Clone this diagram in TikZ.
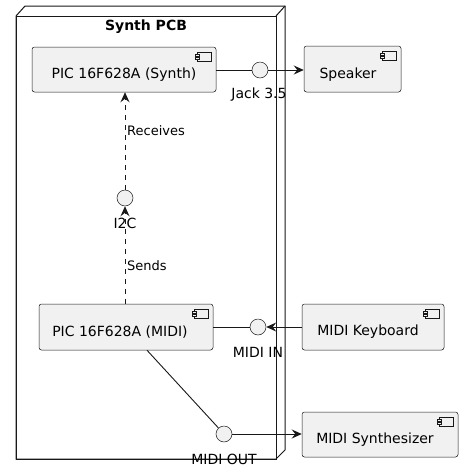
\documentclass[tikz,border=0pt]{standalone}
\usepackage{fontspec}
\setmainfont{DejaVu Sans}
\usetikzlibrary{arrows.meta}
\definecolor{boxfill}{HTML}{F1F1F1}
\definecolor{ln}{HTML}{181818}
\begin{document}
\begin{tikzpicture}[x=1pt,y=-1pt,
  comp/.style={draw=ln, line width=0.5pt, fill=boxfill, rounded corners=2.5pt, inner sep=0pt},
  txt/.style={inner sep=0pt, font=\fontsize{14}{16}\selectfont, text=black},
  lbl/.style={inner sep=0pt, font=\fontsize{13}{15}\selectfont, text=black, anchor=west},
  iface/.style={circle, draw=ln, line width=0.5pt, fill=boxfill, minimum size=16pt, inner sep=0pt},
  conn/.style={draw=ln, line width=0.9pt},
  arr/.style={conn, -{Stealth[length=10pt,width=9pt,inset=3.5pt]}},
  dashline/.style={dash pattern=on 5pt off 5pt}
]
\useasboundingbox[fill=white] (0,0) rectangle (463,475);
\tikzset{compicon/.pic={
  \draw[ln, line width=0.5pt, fill=boxfill] (-7,-4.5) rectangle (7,4.5);
  \draw[ln, line width=0.5pt, fill=boxfill] (-9,-2.5) rectangle (-5,-0.5);
  \draw[ln, line width=0.5pt, fill=boxfill] (-9,0.5) rectangle (-5,2.5);
}}
% node frame
\draw[ln, line width=1pt, fill=white] (16,16) -- (25,6) -- (285,6) -- (285,450) -- (276,459) -- (16,459) -- cycle;
\draw[ln, line width=1pt] (16,16) rectangle (276,459);
\draw[ln, line width=1pt] (276,16) -- (285,6);
\node[txt, font=\fontsize{14}{16}\selectfont\bfseries] (title) at (146,27) {Synth PCB};

% components
\node[comp, minimum width=184pt, minimum height=45pt] (synth) at (124,69.5) {};
\node[txt] (synthT) at (124,74.5) {PIC 16F628A (Synth)};
\pic at ([xshift=-12pt,yshift=-10pt]synth.north east) {compicon};

\node[comp, minimum width=97pt, minimum height=46pt] (speaker) at (352.5,69) {};
\node[txt] (speakerT) at (348,74.5) {Speaker};
\pic at ([xshift=-12pt,yshift=-10pt]speaker.north east) {compicon};

\node[comp, minimum width=174pt, minimum height=46pt] (midi) at (126,327) {};
\node[txt] (midiT) at (120,332) {PIC 16F628A (MIDI)};
\pic at ([xshift=-12pt,yshift=-10pt]midi.north east) {compicon};

\node[comp, minimum width=142pt, minimum height=46pt] (keyboard) at (373,327) {};
\node[txt] (keyboardT) at (368,332) {MIDI Keyboard};
\pic at ([xshift=-12pt,yshift=-10pt]keyboard.north east) {compicon};

\node[comp, minimum width=156pt, minimum height=45pt] (synthesizer) at (380,434.5) {};
\node[txt] (synthesizerT) at (375,440) {MIDI Synthesizer};
\pic at ([xshift=-12pt,yshift=-10pt]synthesizer.north east) {compicon};

% interfaces
\node[iface] (jack) at (260,70) {};
\node[txt] (jackT) at (259,95) {Jack 3.5};
\node[iface] (i2c) at (125,198) {};
\node[txt] (i2cT) at (125,223) {I2C};
\node[iface] (midiin) at (258,327) {};
\node[txt] (midiinT) at (258,352) {MIDI IN};
\node[iface] (midiout) at (224,434) {};
\node[txt] (midioutT) at (224,459) {MIDI OUT};

% connectors
\draw[conn] (synth.east |- jack) -- (jack.west);
\draw[arr] (jack.east) -- (speaker.west |- jack);
\draw[arr, dashline] (i2c.north) -- (i2c |- synth.south);
\draw[arr, dashline] (i2c |- midi.north) -- (i2c.south);
\node[lbl] (recv) at (127,131) {Receives};
\node[lbl] (sends) at (127,266) {Sends};
\draw[conn] (midi.east |- midiin) -- (midiin.west);
\draw[arr] (keyboard.west |- midiin) -- (midiin.east);
\draw[conn] ([xshift=21pt]midi.south) -- (midiout);
\draw[arr] (midiout.east) -- (synthesizer.west |- midiout);
\end{tikzpicture}
\end{document}
